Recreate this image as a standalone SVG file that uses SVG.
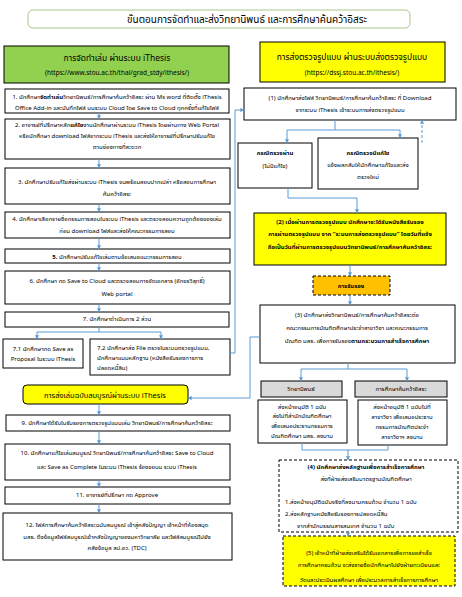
<svg xmlns="http://www.w3.org/2000/svg" width="462" height="597" viewBox="0 0 462 597">
<style>
.bg{fill:#ffffff}
.box{fill:#ffffff;stroke:#000000;stroke-width:1}
.grn{fill:#92d050;stroke:#000000;stroke-width:1}
.yel{fill:#ffff00;stroke:#000000;stroke-width:1}
.yeld{fill:#ffff00;stroke:#000000;stroke-width:1;stroke-dasharray:3,2}
.org{fill:#ffc000;stroke:#000000;stroke-width:1;stroke-dasharray:3,2}
.dsh{fill:#ffffff;stroke:#000000;stroke-width:1;stroke-dasharray:3,2}
.gry{fill:#d9d9d9;stroke:#000000;stroke-width:1}
.ttl{fill:#ffffff;stroke:#a9c58a;stroke-width:1}
text{font-family:"Noto Sans Thai","Tahoma","Leelawadee UI","Loma","Garuda","Noto Sans",sans-serif;font-size:6px;fill:#000000}
.m{text-anchor:middle}
.b{font-weight:bold}
.h{font-size:8.5px}
.u{font-size:6.5px}
.c{stroke:#5b9bd5;stroke-width:1;fill:none}
.ca{stroke:#5b9bd5;stroke-width:1;fill:none;marker-end:url(#ar)}
.cd{stroke:#5b9bd5;stroke-width:1;fill:none;stroke-dasharray:3,2;marker-end:url(#ar)}
</style>
<defs>
<marker id="ar" viewBox="0 0 6 6" refX="5.5" refY="3" markerWidth="4" markerHeight="4" orient="auto" markerUnits="userSpaceOnUse">
<path d="M0,0 L6,3 L0,6 z" fill="#5b9bd5"/>
</marker>
</defs>
<rect class="bg" x="0" y="0" width="462" height="597"/>

<g id="title">
<rect class="ttl" x="28" y="10" width="382" height="18" rx="5"/>
<text class="m" x="247" y="23" style="font-size:10px">ขั้นตอนการจัดทำและส่งวิทยานิพนธ์ และการศึกษาค้นคว้าอิสระ</text>
</g>

<g id="hdr-left">
<rect class="grn" x="4" y="46" width="225" height="37"/>
<text class="m h" x="117" y="61">การจัดทำเล่ม ผ่านระบบ iThesis</text>
<text class="m u" x="117" y="75">(https://www.stou.ac.th/thai/grad_stdy/ithesis/)</text>
</g>

<g id="hdr-right">
<rect class="yel" x="260" y="42" width="185" height="40"/>
<text class="m h" x="352" y="60">การส่งตรวจรูปแบบ ผ่านระบบส่งตรวจรูปแบบ</text>
<text class="m u" x="352" y="75">(https://dssj.stou.ac.th/ithesis/)</text>
</g>

<g id="s1">
<rect class="box" x="5" y="89" width="224" height="24"/>
<text class="m" x="117" y="99">1. นักศึกษา<tspan class="b">จัดทำเล่ม</tspan>วิทยานิพนธ์/การศึกษาค้นคว้าอิสระ ผ่าน Ms word ที่ติดตั้ง iThesis</text>
<text class="m" x="117" y="110">Office Add-in และบันทึกไฟล์ บนระบบ Cloud โดย Save to Cloud ทุกครั้งที่แก้ไขไฟล์</text>
</g>

<g id="s2">
<rect class="box" x="5" y="119" width="225" height="40"/>
<text class="m" x="117" y="127">2. อาจารย์ที่ปรึกษาหลัก<tspan class="b">แก้ไข</tspan>งานนักศึกษาผ่านระบบ iThesis โดยผ่านทาง Web Portal</text>
<text class="m" x="117" y="138">หรือนักศึกษา download ไฟล์จากระบบ iThesis และส่งให้อาจารย์ที่ปรึกษาปรับแก้ไข</text>
<text class="m" x="117" y="149">ตามช่องทางที่สะดวก</text>
</g>

<g id="s3">
<rect class="box" x="5" y="168" width="225" height="36"/>
<text class="m" x="117" y="184">3. นักศึกษาปรับแก้ไขส่งผ่านระบบ iThesis จนพร้อมสอบปากเปล่า หรือสอบการศึกษา</text>
<text class="m" x="117" y="196">ค้นคว้าอิสระ</text>
</g>

<g id="s4">
<rect class="box" x="5" y="212" width="225" height="26"/>
<text class="m" x="117" y="221">4. นักศึกษาเลือกรายชื่อกรรมการสอบในระบบ iThesis และตรวจสอบความถูกต้องของเล่ม</text>
<text class="m" x="117" y="233">ก่อน download ไฟล์และส่งให้คณะกรรมการสอบ</text>
</g>

<g id="s5">
<rect class="box" x="5" y="249" width="225" height="14"/>
<text class="m" x="117" y="259"><tspan class="b">5.</tspan> นักศึกษาปรับแก้ไขเล่มตามข้อเสนอแนะกรรมการสอบ</text>
</g>

<g id="s6">
<rect class="box" x="5" y="271" width="225" height="33"/>
<text class="m" x="117" y="283">6. นักศึกษา กด Save to Cloud และตรวจสอบการจัดเอกสาร (อักขรวิสุทธิ์)</text>
<text class="m" x="117" y="296">Web portal</text>
</g>

<g id="s7">
<rect class="box" x="5" y="312" width="224" height="15"/>
<text class="m" x="117" y="321">7. นักศึกษาดำเนินการ 2 ส่วน</text>
</g>

<g id="s71">
<rect class="box" x="3" y="339" width="80" height="29"/>
<text class="m" x="43" y="351">7.1 นักศึกษากด Save as</text>
<text class="m" x="43" y="361">Proposal ในระบบ iThesis</text>
</g>

<g id="s72">
<rect class="box" x="90" y="339" width="140" height="36"/>
<text x="97" y="350">7.2 นักศึกษาส่ง File ตรวจในระบบตรวจรูปแบบ,</text>
<text x="97" y="360">นักศึกษาแนบหลักฐาน (หนังสือรับรองการการ</text>
<text x="97" y="370">ปลอดหนี้สิน)</text>
</g>

<g id="final">
<rect class="yel" x="23" y="385" width="165" height="19" rx="4"/>
<text class="m" x="105" y="398" style="font-size:7.5px">การส่งเล่มฉบับสมบูรณ์ผ่านระบบ iThesis</text>
</g>

<g id="s9">
<rect class="box" x="6" y="415" width="224" height="16"/>
<text class="m" x="117" y="425">9. นักศึกษาได้รับใบรับรองการตรวจรูปแบบเล่ม วิทยานิพนธ์/การศึกษาค้นคว้าอิสระ</text>
</g>

<g id="s10">
<rect class="box" x="5" y="444" width="225" height="36"/>
<text class="m" x="117" y="455">10. นักศึกษาแก้ไขเล่มสมบูรณ์ วิทยานิพนธ์/การศึกษาค้นคว้าอิสระ Save to Cloud</text>
<text class="m" x="117" y="469">และ Save as Complete ในระบบ iThesis ร้องขอบน ระบบ iThesis</text>
</g>

<g id="s11">
<rect class="box" x="5" y="487" width="225" height="17"/>
<text class="m" x="117" y="497">11. อาจารย์ที่ปรึกษา กด Approve</text>
</g>

<g id="s12">
<rect class="box" x="3" y="513" width="229" height="47"/>
<text class="m" x="117" y="527">12. ไฟล์การศึกษาค้นคว้าอิสระฉบับสมบูรณ์ เข้าสู่คลังปัญญา เจ้าหน้าที่ห้องสมุด</text>
<text class="m" x="117" y="539">มสธ. ดึงข้อมูลไฟล์สมบูรณ์เข้าคลังปัญญาของมหาวิทยาลัย และไฟล์สมบูรณ์ไปยัง</text>
<text class="m" x="117" y="550">คลังข้อมูล สป.อว. (TDC)</text>
</g>

<g id="r1">
<rect class="box" x="244" y="88" width="212" height="32"/>
<text class="m" x="350" y="100">(1) นักศึกษาส่งไฟล์ วิทยานิพนธ์/การศึกษาค้นคว้าอิสระ ที่ Download</text>
<text class="m" x="350" y="112">จากระบบ iThesis เข้าระบบการส่งตรวจรูปแบบ</text>
</g>

<g id="r-pass">
<rect class="box" x="238" y="143" width="74" height="45"/>
<text class="m b" x="275" y="155">กรณีตรวจผ่าน</text>
<text class="m" x="275" y="168">(ไม่มีแก้ไข)</text>
</g>

<g id="r-fix">
<rect class="box" x="318" y="138" width="100" height="51"/>
<text class="m b" x="368" y="155">กรณีตรวจมีแก้ไข</text>
<text class="m" x="368" y="167">แจ้งผลกลับให้นักศึกษาแก้ไขและส่ง</text>
<text class="m" x="368" y="179">ตรวจใหม่</text>
</g>

<g id="r2">
<rect class="yel" x="254" y="213" width="192" height="52"/>
<text class="m b" x="350" y="224">(2) เมื่อผ่านการตรวจรูปแบบ นักศึกษาจะได้รับหนังสือรับรอง</text>
<text class="m b" x="350" y="236">การผ่านตรวจรูปแบบ จาก “ระบบการส่งตรวจรูปแบบ” โดยวันที่แจ้ง</text>
<text class="m b" x="350" y="249">ถือเป็นวันที่ผ่านการตรวจรูปแบบวิทยานิพนธ์/การศึกษาค้นคว้าอิสระ</text>
</g>

<g id="r-cert">
<rect class="org" x="313" y="276" width="77" height="19"/>
<text class="m b" x="351" y="288">การรับรอง</text>
</g>

<g id="r3">
<rect class="box" x="260" y="305" width="195" height="58"/>
<text class="m" x="357" y="317">(3) นักศึกษาส่งวิทยานิพนธ์/การศึกษาค้นคว้าอิสระต่อ</text>
<text class="m" x="357" y="330">คณะกรรมการบัณฑิตศึกษาประจำสาขาวิชา และคณะกรรมการ</text>
<text class="m" x="357" y="343">บัณฑิต มสธ. เพื่อการรับรอง<tspan class="b">ตามกระบวนการสำเร็จการศึกษา</tspan></text>
</g>

<g id="r-thesis">
<rect class="gry" x="261" y="381" width="81" height="16"/>
<text class="m" x="301" y="391">วิทยานิพนธ์</text>
</g>

<g id="r-is">
<rect class="gry" x="355" y="381" width="92" height="16"/>
<text class="m" x="401" y="391">การศึกษาค้นคว้าอิสระ</text>
</g>

<g id="r-thesis-d">
<rect class="box" x="258" y="400" width="89" height="43"/>
<text class="m" x="302" y="409">ส่งหน้าอนุมัติ 1 ฉบับ</text>
<text class="m" x="302" y="418">ส่งไปที่สำนักบัณฑิตศึกษา</text>
<text class="m" x="302" y="428">เพื่อเสนอประธานกรรมการ</text>
<text class="m" x="302" y="438">บัณฑิตศึกษา มสธ. ลงนาม</text>
</g>

<g id="r-is-d">
<rect class="box" x="358" y="400" width="89" height="45"/>
<text class="m" x="402" y="409">ส่งหน้าอนุมัติ 1 ฉบับไปที่</text>
<text class="m" x="402" y="419">สาขาวิชา เพื่อเสนอประธาน</text>
<text class="m" x="402" y="429">กรรมการบัณฑิตประจำ</text>
<text class="m" x="402" y="439">สาขาวิชาฯ ลงนาม</text>
</g>

<g id="r4">
<rect class="dsh" x="279" y="460" width="179" height="72"/>
<text class="m b" x="366" y="469">(4) นักศึกษาส่งหลักฐานเพื่อการสำเร็จการศึกษา</text>
<text class="m" x="366" y="481">ส่งที่ฝ่ายส่งเสริมมาตรฐานบัณฑิตศึกษา</text>
<text x="285" y="504">1.ส่งหน้าอนุมัติฉบับจริงที่ลงนามครบถ้วน จำนวน 1 ฉบับ</text>
<text x="285" y="516">2.ส่งหลักฐานหนังสือรับรองการปลอดหนี้สิน</text>
<text x="297" y="528">จากสำนักบรรณสารสนเทศ  จำนวน 1 ฉบับ</text>
</g>

<g id="r5">
<rect class="yeld" x="283" y="536" width="172" height="50"/>
<text class="m" x="369" y="555">(5) เจ้าหน้าที่ฝ่ายส่งเสริมได้รับเอกสารเพื่อการขอสำเร็จ</text>
<text class="m" x="369" y="567">การศึกษาครบถ้วน จะส่งรายชื่อนักศึกษาไปยังฝ่ายทะเบียนและ</text>
<text class="m" x="369" y="582">วัดและประเมินผลศึกษา เพื่อประมวลการสำเร็จการการศึกษา</text>
</g>

<g id="connectors">
<path class="ca" d="M99,113 V119"/>
<path class="ca" d="M99,159 V168"/>
<path class="ca" d="M99,204 V212"/>
<path class="ca" d="M99,238 V249"/>
<path class="ca" d="M99,263 V271"/>
<path class="ca" d="M99,304 V312"/>
<path class="c" d="M99,327 V332 M37,332 H161"/>
<path class="ca" d="M37,332 V339"/>
<path class="ca" d="M161,332 V339"/>
<path class="ca" d="M230,353 H235 V110 H244"/>
<path class="ca" d="M99,404 V415"/>
<path class="ca" d="M99,431 V444"/>
<path class="ca" d="M99,480 V487"/>
<path class="ca" d="M99,504 V513"/>
<path class="c" d="M335,120 V130 M287,130 H400"/>
<path class="ca" d="M287,130 V143"/>
<path class="ca" d="M400,130 V138"/>
<path class="cd" d="M422,143 V120"/>
<path class="ca" d="M288,188 V198 H357 V213"/>
<path class="ca" d="M350,265 V276"/>
<path class="ca" d="M350,295 V305"/>
<path class="ca" d="M260,337 H250 V398 H188"/>
<path class="c" d="M348,363 V369 M301,369 H407"/>
<path class="ca" d="M301,369 V381"/>
<path class="ca" d="M407,369 V381"/>
<path class="c" d="M302,443 V450 H388 V445"/>
<path class="ca" d="M348,450 V460"/>
<path class="ca" d="M348,532 V536"/>
</g>
</svg>
